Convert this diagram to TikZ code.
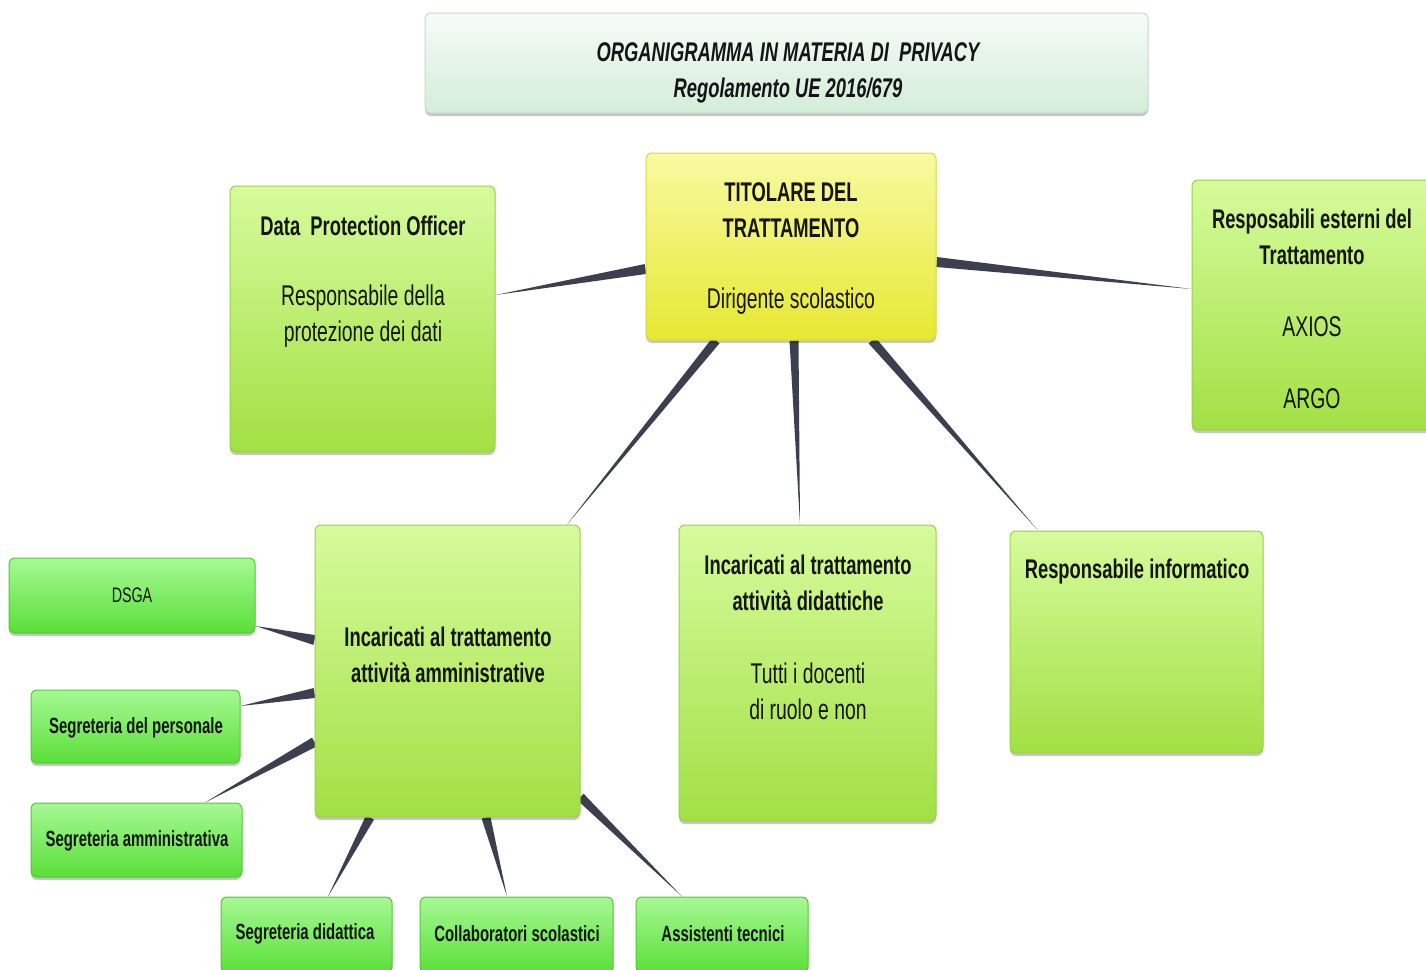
\documentclass[tikz,border=0pt]{standalone}
\usepackage{fontspec}
\setmainfont{Liberation Sans}[FakeStretch=0.68]
\usetikzlibrary{calc,shadows}
\pgfdeclarelayer{bg}
\pgfsetlayers{bg,main}
\definecolor{wedgecol}{HTML}{3C3F4F}
\definecolor{textcol}{HTML}{151515}
\definecolor{titletop}{HTML}{F7FCF7}
\definecolor{titlebot}{HTML}{D3EDDA}
\definecolor{titledraw}{HTML}{C9D9CC}
\definecolor{yeltop}{HTML}{F8FAA2}
\definecolor{yelbot}{HTML}{E6E832}
\definecolor{yeldraw}{HTML}{D6D845}
\definecolor{gtop}{HTML}{D6FB9C}
\definecolor{gbot}{HTML}{A2E044}
\definecolor{gdraw}{HTML}{9ACF48}
\definecolor{stop}{HTML}{A6F994}
\definecolor{sbot}{HTML}{5ADF38}
\definecolor{sdraw}{HTML}{52C834}
\newcommand\taper[3]{\fill[wedgecol] ($(#1)!#3!90:(#2)$) -- ($(#1)!#3!-90:(#2)$) -- (#2) -- cycle;}
\newcommand\fhead{\fontsize{27}{36}\selectfont\bfseries}
\newcommand\fbody{\fontsize{28.5}{36}\selectfont}
\newcommand\fsmall{\fontsize{22}{26}\selectfont\bfseries}
\begin{document}
\begin{tikzpicture}[x=1pt,y=-1pt,
  boxshadow/.style={drop shadow={shadow xshift=0pt,shadow yshift=-3pt,opacity=0.22,fill=black}},
  titlebox/.style={draw=titledraw,line width=1pt,rounded corners=6pt,top color=titletop,bottom color=titlebot,boxshadow},
  yelbox/.style={draw=yeldraw,line width=1pt,rounded corners=6pt,top color=yeltop,bottom color=yelbot,boxshadow},
  bigbox/.style={draw=gdraw,line width=1pt,rounded corners=6pt,top color=gtop,bottom color=gbot,boxshadow},
  smallbox/.style={draw=sdraw,line width=1pt,rounded corners=6pt,top color=stop,bottom color=sbot,boxshadow},
  txt/.style={align=center,text=textcol,inner sep=0pt}]
\useasboundingbox (0,0) rectangle (1426,969);
% boxes
\node[titlebox,minimum width=723pt,minimum height=100pt] (title) at (786.5,63) {};
\node[yelbox,minimum width=290pt,minimum height=187pt] (tit) at (791,246.5) {};
\node[bigbox,minimum width=265pt,minimum height=266pt] (dpo) at (362.5,319) {};
\node[bigbox,minimum width=246pt,minimum height=250pt] (ext) at (1315,305) {};
\node[bigbox,minimum width=265pt,minimum height=292pt] (amm) at (447.5,671) {};
\node[bigbox,minimum width=257pt,minimum height=296pt] (did) at (807.5,673) {};
\node[bigbox,minimum width=253pt,minimum height=222pt] (inf) at (1136.5,642) {};
\node[smallbox,minimum width=246pt,minimum height=75pt] (dsga) at (132,595.5) {};
\node[smallbox,minimum width=209pt,minimum height=73pt] (pers) at (135.5,726.5) {};
\node[smallbox,minimum width=211pt,minimum height=74pt] (samm) at (136.5,840) {};
\node[smallbox,minimum width=171pt,minimum height=76pt] (sdid) at (306.5,935) {};
\node[smallbox,minimum width=193pt,minimum height=76pt] (coll) at (516.5,935) {};
\node[smallbox,minimum width=172pt,minimum height=76pt] (ass) at (722,935) {};
% texts
\node[txt,font={\fontsize{27}{36}\selectfont\bfseries\itshape}] (titleT) at (788,73) {ORGANIGRAMMA IN MATERIA DI\ \ PRIVACY\\Regolamento UE 2016/679};
\node[txt,font=\fhead] (titT) at (791,210) {TITOLARE DEL\\TRATTAMENTO};
\node[txt,font=\fbody] (titB) at (791,301) {Dirigente scolastico};
\node[txt,font=\fhead] (dpoT) at (363,226) {Data\ \ Protection Officer};
\node[txt,font=\fbody] (dpoB) at (363,316) {Responsabile della\\protezione dei dati};
\node[txt,font=\fhead] (extT) at (1312,237) {Resposabili esterni del\\Trattamento};
\node[txt,font=\fbody] (extB1) at (1312,327) {AXIOS};
\node[txt,font=\fbody] (extB2) at (1312,399) {ARGO};
\node[txt,font=\fhead] (ammT) at (448,655) {Incaricati al trattamento\\attività amministrative};
\node[txt,font=\fhead] (didT) at (808,583) {Incaricati al trattamento\\attività didattiche};
\node[txt,font=\fbody] (didB) at (808,691) {Tutti i docenti\\di ruolo e non};
\node[txt,font=\fhead] (infT) at (1137,572) {Responsabile informatico};
\node[txt,font={\fontsize{21}{26}\selectfont}] (dsgaT) at (132,595) {DSGA};
\node[txt,font=\fsmall] (persT) at (136,728) {Segreteria del personale};
\node[txt,font=\fsmall] (sammT) at (137,841) {Segreteria amministrativa};
\node[txt,font=\fsmall] (sdidT) at (305,934) {Segreteria didattica};
\node[txt,font=\fsmall] (collT) at (517,934) {Collaboratori scolastici};
\node[txt,font=\fsmall] (assT) at (723,934) {Assistenti tecnici};
% connector end points
\coordinate (c1a) at (tit.west |- 0,269);  \coordinate (c1b) at (dpo.east |- 0,295);
\coordinate (c2a) at (tit.east |- 0,262);  \coordinate (c2b) at (ext.west |- 0,289);
\coordinate (c3a) at (tit.south -| 716,0); \coordinate (c3b) at (amm.north -| 567,0);
\coordinate (c4a) at (tit.south -| 794,0); \coordinate (c4b) at (did.north -| 800,0);
\coordinate (c5a) at (tit.south -| 872,0); \coordinate (c5b) at (inf.north -| 1038,0);
\coordinate (c6a) at (amm.west |- 0,640);  \coordinate (c6b) at (dsga.east |- 0,626);
\coordinate (c7a) at (amm.west |- 0,693);  \coordinate (c7b) at (pers.east |- 0,706);
\coordinate (c8a) at (amm.west |- 0,742);  \coordinate (c8b) at (samm.north -| 205,0);
\coordinate (c9a) at (amm.south -| 370,0); \coordinate (c9b) at (sdid.north -| 328,0);
\coordinate (c10a) at (amm.south -| 486,0); \coordinate (c10b) at (coll.north -| 507,0);
\coordinate (c11a) at (amm.east |- 0,797); \coordinate (c11b) at (ass.north -| 682,0);
\begin{pgfonlayer}{bg}
\fill[white] (0,0) rectangle (1426,969);
\taper{c1a}{c1b}{5pt}
\taper{c2a}{c2b}{5pt}
\taper{c3a}{c3b}{4.5pt}
\taper{c4a}{c4b}{4.5pt}
\taper{c5a}{c5b}{4.5pt}
\taper{c6a}{c6b}{5pt}
\taper{c7a}{c7b}{5pt}
\taper{c8a}{c8b}{5pt}
\taper{c9a}{c9b}{4.5pt}
\taper{c10a}{c10b}{4.5pt}
\taper{c11a}{c11b}{4.5pt}
\end{pgfonlayer}
\end{tikzpicture}
\end{document}
